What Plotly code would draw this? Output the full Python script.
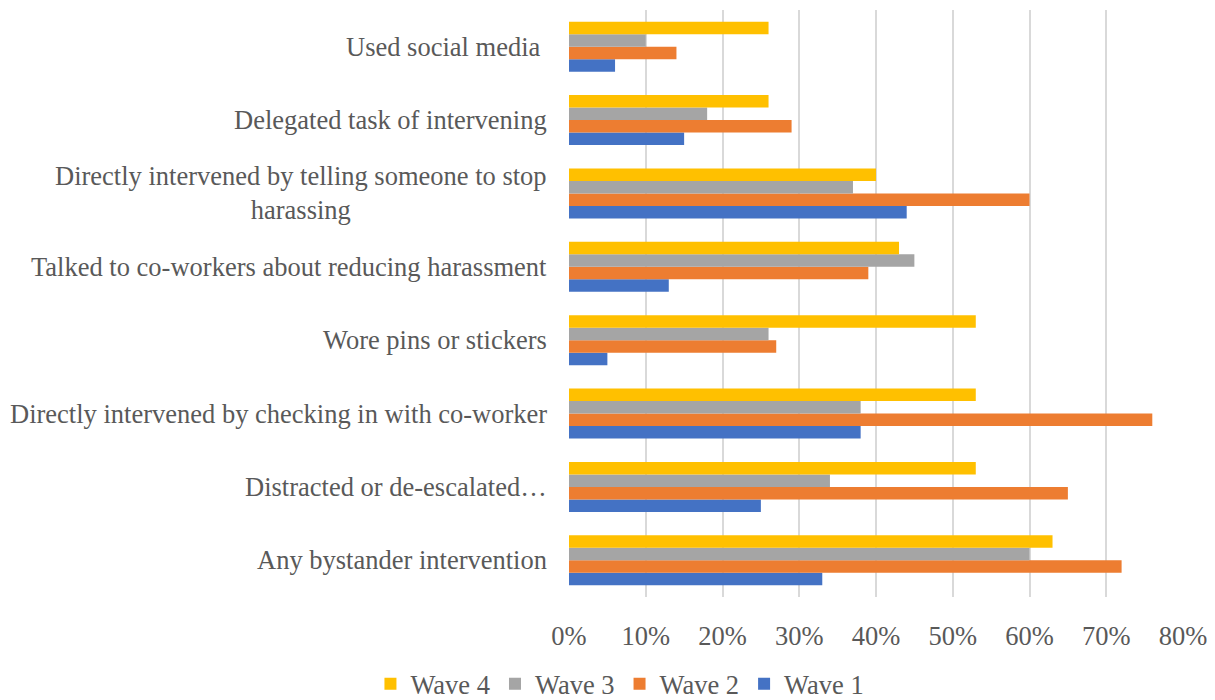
import plotly.graph_objects as go

# Categories, listed top to bottom as in the chart
categories = [
    "Used social media\u00a0",
    "Delegated task of intervening",
    "Directly intervened by telling someone to stop<br>harassing",
    "Talked to co-workers about reducing harassment",
    "Wore pins or stickers",
    "Directly intervened by checking in with co-worker",
    "Distracted or de-escalated\u2026",
    "Any bystander intervention",
]

wave1 = [0.06, 0.15, 0.44, 0.13, 0.05, 0.38, 0.25, 0.33]
wave2 = [0.14, 0.29, 0.60, 0.39, 0.27, 0.76, 0.65, 0.72]
wave3 = [0.10, 0.18, 0.37, 0.45, 0.26, 0.38, 0.34, 0.60]
wave4 = [0.26, 0.26, 0.40, 0.43, 0.53, 0.53, 0.53, 0.63]

series_names = ["Wave 1", "Wave 2", "Wave 3", "Wave 4"]
series_values = [wave1, wave2, wave3, wave4]
series_colors = ["#4472C4", "#ED7D31", "#A5A5A5", "#FFC000"]

x_ticks = [0, 0.1, 0.2, 0.3, 0.4, 0.5, 0.6, 0.7, 0.8]
x_tick_labels = ["0%", "10%", "20%", "30%", "40%", "50%", "60%", "70%", "80%"]

FONT = "Liberation Serif, Times New Roman, serif"
TEXT_COLOR = "#595959"
FS = 26.5

fig = go.Figure()
for name, vals, col in zip(series_names, series_values, series_colors):
    fig.add_trace(go.Bar(
        y=categories, x=vals, name=name, orientation="h",
        marker=dict(color=col, line=dict(width=0)),
    ))

for cat in categories:
    fig.add_annotation(
        x=0, xref="paper", y=cat, yref="y",
        text=cat, showarrow=False, xanchor="right", yanchor="middle",
        xshift=-20, align="center",
        font=dict(family=FONT, size=FS, color=TEXT_COLOR),
    )

fig.update_layout(
    width=1207, height=692,
    margin=dict(l=561, r=32, t=2, b=103),
    paper_bgcolor="white", plot_bgcolor="white",
    barmode="group", bargap=0.32, bargroupgap=0.0,
    font=dict(family=FONT, size=FS, color=TEXT_COLOR),
    xaxis=dict(
        range=[0, 0.8], tickvals=x_ticks, ticktext=x_tick_labels,
        showgrid=True, gridcolor="#D9D9D9", gridwidth=1.5,
        zeroline=False, showline=False, ticks="",
        ticklabelstandoff=20,
        tickfont=dict(family=FONT, size=FS, color=TEXT_COLOR),
    ),
    yaxis=dict(
        categoryorder="array", categoryarray=categories[::-1],
        showticklabels=False, showgrid=False, zeroline=False,
        showline=False, ticks="",
    ),
    legend=dict(
        orientation="h", traceorder="reversed",
        xref="container", yref="container",
        x=0.507, xanchor="center", y=0.0231, yanchor="middle",
        font=dict(family=FONT, size=FS, color=TEXT_COLOR),
        itemwidth=30,
    ),
    showlegend=True,
)

fig.write_html("out.html")
